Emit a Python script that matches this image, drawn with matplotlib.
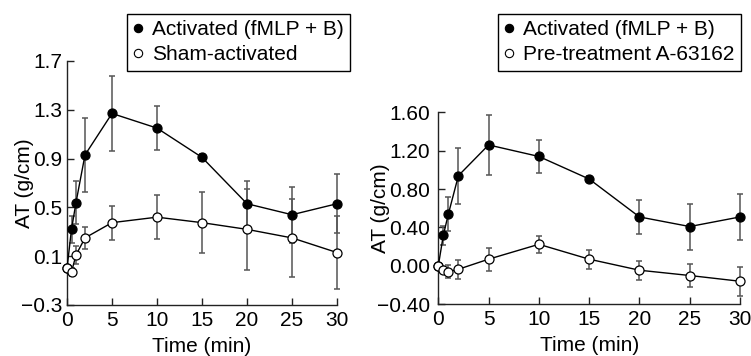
import matplotlib
matplotlib.use("Agg")
import matplotlib.pyplot as plt
from matplotlib.lines import Line2D

plt.rcParams['font.family'] = ['Liberation Sans', 'DejaVu Sans']

time = [0, 0.5, 1, 2, 5, 10, 15, 20, 25, 30]

left_act = [0.0, 0.32, 0.54, 0.93, 1.27, 1.15, 0.91, 0.53, 0.44, 0.53]
left_act_err = [0, 0.11, 0.18, 0.30, 0.31, 0.18, 0.03, 0.19, 0.23, 0.24]
left_sham = [0.0, -0.03, 0.11, 0.25, 0.375, 0.42, 0.375, 0.32, 0.25, 0.13]
left_sham_err = [0, 0.03, 0.07, 0.09, 0.14, 0.18, 0.25, 0.33, 0.32, 0.30]

right_act = [0.0, 0.32, 0.54, 0.94, 1.26, 1.14, 0.905, 0.51, 0.41, 0.51]
right_act_err = [0, 0.10, 0.18, 0.29, 0.31, 0.17, 0.03, 0.18, 0.24, 0.24]
right_pre = [0.0, -0.04, -0.06, -0.035, 0.07, 0.225, 0.07, -0.045, -0.10, -0.16]
right_pre_err = [0, 0.03, 0.07, 0.10, 0.12, 0.09, 0.10, 0.10, 0.12, 0.15]

left_yticks = [-0.3, 0.1, 0.5, 0.9, 1.3, 1.7]
left_yticklabels = ['\u22120.3', '0.1', '0.5', '0.9', '1.3', '1.7']
right_yticks = [-0.4, 0.0, 0.4, 0.8, 1.2, 1.6]
right_yticklabels = ['\u22120.40', '0.00', '0.40', '0.80', '1.20', '1.60']
xticks = [0, 5, 10, 15, 20, 25, 30]

left_labels = ['Activated (fMLP + B)', 'Sham-activated']
right_labels = ['Activated (fMLP + B)', 'Pre-treatment A-63162']

W, H = 751, 356
fig = plt.figure(figsize=(W / 100, H / 100), dpi=100)

def px_axes(x0, x1, ytop, ybot):
    return fig.add_axes([x0 / W, 1 - ybot / H, (x1 - x0) / W, (ybot - ytop) / H])

axL = px_axes(67, 337, 61, 305)
axR = px_axes(438.3, 740, 112.3, 304.3)

FS = 15
ECOL = '#555555'

def draw(ax, act, act_err, other, other_err, ylim, yticks, yticklabels, ypad):
    for y, e, fc in [(act, act_err, 'black'), (other, other_err, 'white')]:
        ax.errorbar(time, y, yerr=e, fmt='none', ecolor=ECOL, elinewidth=1.1,
                    capsize=2.5, capthick=1.1, clip_on=False, zorder=2)
        ax.plot(time, y, color='black', lw=1.0, marker='o', markersize=6.5,
                markerfacecolor=fc, markeredgecolor='black', markeredgewidth=0.9,
                clip_on=False, zorder=3)
    ax.set_xlim(0, 30)
    ax.set_ylim(*ylim)
    ax.set_xticks(xticks)
    ax.set_yticks(yticks)
    ax.set_yticklabels(yticklabels)
    for s in ['top', 'right']:
        ax.spines[s].set_visible(False)
    for s in ['left', 'bottom']:
        ax.spines[s].set_linewidth(1.0)
        ax.spines[s].set_color('#222222')
    ax.tick_params(direction='in', length=5, width=1.0, labelsize=FS, color='#222222')
    ax.tick_params(axis='x', pad=4)
    ax.tick_params(axis='y', pad=ypad)
    ax.set_xlabel('Time (min)', fontsize=FS, labelpad=5)
    ax.set_ylabel('AT (g/cm)', fontsize=FS)

draw(axL, left_act, left_act_err, left_sham, left_sham_err, (-0.3, 1.7),
     left_yticks, left_yticklabels, 3.5)
draw(axR, right_act, right_act_err, right_pre, right_pre_err, (-0.4, 1.6),
     right_yticks, right_yticklabels, 6)

axL.yaxis.set_label_coords((34 - 67) / 270, 0.5)
axR.yaxis.set_label_coords((390 - 438.3) / 301.7, 0.5)

def make_legend(ax, labels, x0, y0):
    handles = [
        Line2D([], [], ls='none', marker='o', markersize=6, markerfacecolor='black',
               markeredgecolor='black', markeredgewidth=0.8),
        Line2D([], [], ls='none', marker='o', markersize=6, markerfacecolor='white',
               markeredgecolor='black', markeredgewidth=0.8),
    ]
    leg = ax.legend(handles, labels, loc='upper left',
                    bbox_to_anchor=(x0 / W, 1 - y0 / H), bbox_transform=fig.transFigure,
                    fontsize=FS, frameon=True, fancybox=False, borderaxespad=0,
                    handlelength=0.45, handletextpad=0.45, borderpad=0.3,
                    labelspacing=0.3)
    fr = leg.get_frame()
    fr.set_edgecolor('black')
    fr.set_linewidth(1.0)
    fr.set_facecolor('white')
    fr.set_alpha(1)
    return leg

make_legend(axL, left_labels, 127, 14)
make_legend(axR, right_labels, 498.3, 14)

fig.savefig('out.png', dpi=100)
